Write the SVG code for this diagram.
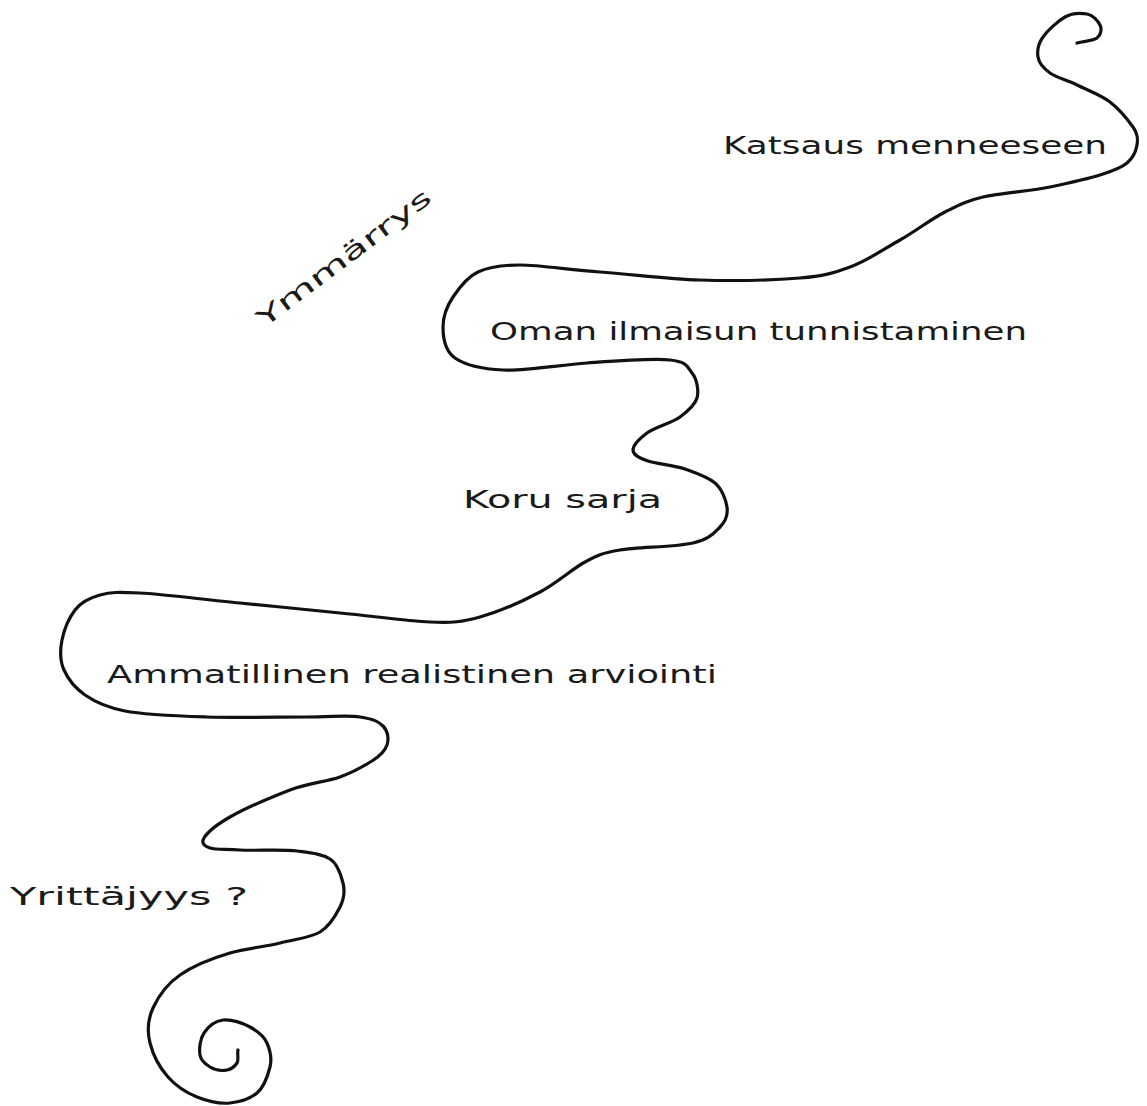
<svg xmlns="http://www.w3.org/2000/svg" width="1147" height="1106" viewBox="0 0 1147 1106">
<style>
.path{fill:none;stroke:#111;stroke-width:3.2;stroke-linecap:round;stroke-linejoin:round}
.lbl{font-family:"DejaVu Sans","Liberation Sans",sans-serif;font-size:24px;fill:#1a1a1a}
</style>
<rect width="1147" height="1106" fill="#fff"/>
<g id="connectors">
<path class="path" d="M 1077 43 C 1084 41 1093 41 1097 38 S 1102 29 1100 25 S 1093 15 1087 14 S 1072 13 1065 17 S 1048 30 1043 37 S 1037 51 1038 57 S 1043 68 1050 73 S 1067 80 1077 85 S 1101 95 1110 102 S 1128 120 1133 127 S 1138 139 1137 145 S 1133 158 1127 163 S 1113 171 1100 175 S 1069 183 1050 187 S 1000 193 983 197 S 959 205 945 212 S 916 231 900 240 S 867 261 850 267 S 825 276 800 278 S 733 281 700 280 S 630 274 600 272 S 540 265 520 265 S 489 267 478 272 S 459 288 453 297 S 443 317 443 327 S 445 351 455 358 S 481 369 503 370 S 559 365 587 363 S 652 358 670 360 S 687 367 692 373 S 699 391 697 398 S 688 411 680 417 S 655 427 647 433 S 633 445 633 450 S 639 458 648 461 S 674 465 685 469 S 708 477 715 483 S 726 500 727 507 S 726 521 720 527 S 710 539 693 543 S 638 547 620 550 S 598 555 585 562 S 557 583 540 592 S 498 612 480 617 S 453 623 430 622 S 372 616 340 613 S 273 606 240 603 S 163 594 140 593 S 111 592 100 595 S 81 602 75 610 S 64 630 62 640 S 60 661 64 670 S 75 688 85 695 S 105 707 125 711 S 177 716 207 717 S 281 717 307 717 S 347 715 360 717 S 378 721 383 726 S 389 739 387 745 S 380 756 372 761 S 354 772 340 777 S 308 783 290 790 S 244 809 230 817 S 207 833 204 838 S 204 846 210 848 S 225 849 240 850 S 282 849 297 851 S 322 854 330 859 S 341 875 343 883 S 344 899 340 907 S 330 926 320 932 S 295 939 280 943 S 247 948 230 953 S 193 966 180 975 S 158 997 153 1008 S 147 1031 150 1043 S 160 1068 168 1077 S 187 1093 197 1097 S 220 1104 230 1103 S 250 1099 257 1093 S 268 1075 270 1067 S 270 1050 267 1043 S 257 1031 250 1027 S 231 1019 223 1020 S 208 1027 204 1033 S 199 1049 200 1055 S 205 1064 210 1067 S 222 1071 227 1070 S 235 1066 237 1063 S 237 1054 238 1050"/>
</g>
<g id="katsaus"><text class="lbl" x="723" y="154" textLength="384" lengthAdjust="spacingAndGlyphs">Katsaus menneeseen</text></g>
<g id="ymmarrys"><text class="lbl" x="344" y="266" text-anchor="middle" textLength="212" lengthAdjust="spacingAndGlyphs" transform="rotate(-37 344 258)">Ymmärrys</text></g>
<g id="oman"><text class="lbl" x="490" y="340" textLength="537" lengthAdjust="spacingAndGlyphs">Oman ilmaisun tunnistaminen</text></g>
<g id="koru"><text class="lbl" x="463" y="508" textLength="199" lengthAdjust="spacingAndGlyphs">Koru sarja</text></g>
<g id="ammatillinen"><text class="lbl" x="107" y="683" textLength="610" lengthAdjust="spacingAndGlyphs">Ammatillinen realistinen arviointi</text></g>
<g id="yrittajyys"><text class="lbl" x="10" y="905" textLength="238" lengthAdjust="spacingAndGlyphs">Yrittäjyys ?</text></g>
</svg>
